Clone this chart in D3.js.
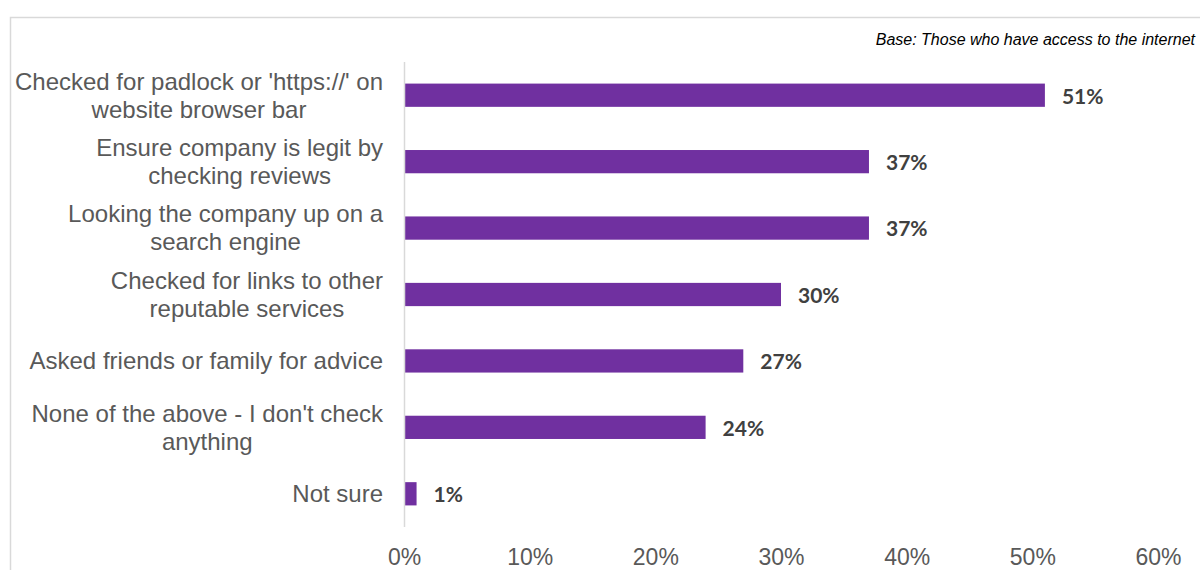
<!DOCTYPE html>
<html>
<head>
<meta charset="utf-8">
<script src="https://cdn.jsdelivr.net/npm/d3@7"></script>
<style>
  html, body { margin: 0; padding: 0; background: #fff; }
  svg { display: block; }
</style>
</head>
<body>
<svg id="chart" width="1200" height="570"></svg>
<script>
// Survey answers, each label split into its display lines
const categories = [
  ["Checked for padlock or 'https://' on", "website browser bar"],
  ["Ensure company is legit by", "checking reviews"],
  ["Looking the company up on a", "search engine"],
  ["Checked for links to other", "reputable services"],
  ["Asked friends or family for advice"],
  ["None of the above - I don't check", "anything"],
  ["Not sure"]
];
const values = [51, 37, 37, 30, 27, 24, 1];
const tickValues = [0, 10, 20, 30, 40, 50, 60];
const baseNote = "Base: Those who have access to the internet";

const svg = d3.select("#chart");
const W = 1200, H = 570;
const margin = { top: 62, right: 42, bottom: 43, left: 404 };
const innerW = W - margin.left - margin.right;
const innerH = H - margin.top - margin.bottom;

// Outer frame
svg.append("path")
  .attr("d", `M10.5,${H} V17.5 H${W}`)
  .attr("fill", "none")
  .attr("stroke", "#d9d9d9")
  .attr("stroke-width", 1.5);

// Base note
svg.append("text")
  .attr("x", 1195).attr("y", 45)
  .attr("text-anchor", "end")
  .attr("font-family", "Liberation Sans, Arial, sans-serif")
  .attr("font-style", "italic")
  .attr("font-size", 16)
  .attr("fill", "#000")
  .text(baseNote);

const g = svg.append("g").attr("transform", `translate(${margin.left},${margin.top})`);

const x = d3.scaleLinear().domain([0, 60]).range([0, 754]);
const y = d3.scaleBand()
  .domain(d3.range(categories.length))
  .range([0, innerH])
  .paddingInner(0.65)
  .paddingOuter(0.325);

// Bars
g.selectAll("rect.bar")
  .data(values)
  .join("rect")
  .attr("class", "bar")
  .attr("x", x(0))
  .attr("y", (d, i) => y(i))
  .attr("width", d => x(d) - x(0))
  .attr("height", y.bandwidth())
  .attr("fill", "#7030a0");

// Value labels
g.selectAll("text.val")
  .data(values)
  .join("text")
  .attr("class", "val")
  .attr("x", d => x(d) + 17)
  .attr("y", (d, i) => y(i) + y.bandwidth() / 2 + 1)
  .attr("dy", "0.35em")
  .attr("font-family", "Lato, Open Sans, sans-serif")
  .attr("font-weight", "bold")
  .attr("font-size", 21)
  .attr("fill", "#404040")
  .text(d => d + "%");

// Vertical axis line
g.append("line")
  .attr("x1", 0.5).attr("x2", 0.5)
  .attr("y1", 0).attr("y2", innerH)
  .attr("stroke", "#d9d9d9")
  .attr("stroke-width", 1.5);

// Category labels: block right-aligned to the axis, lines centred within block
const labelRight = -21;
const lineH = 28;
const labelFont = "Liberation Sans, Arial, sans-serif";
const labelSize = 24;
categories.forEach((lines, i) => {
  const cy = y(i) + y.bandwidth() / 2;
  const t = g.append("text")
    .attr("font-family", labelFont)
    .attr("font-size", labelSize)
    .attr("fill", "#595959")
    .attr("text-anchor", "middle");
  const spans = lines.map((ln, k) => t.append("tspan")
    .attr("y", cy + (k - (lines.length - 1) / 2) * lineH)
    .attr("dy", "0.35em")
    .text(ln));
  const w = d3.max(spans, s => s.node().getComputedTextLength());
  spans.forEach(s => s.attr("x", labelRight - w / 2));
});

// X axis tick labels
const xAxis = d3.axisBottom(x)
  .tickValues(tickValues)
  .tickFormat(d => d + "%")
  .tickSize(0)
  .tickPadding(22);
const ax = g.append("g")
  .attr("transform", `translate(0,${innerH})`)
  .call(xAxis);
ax.select(".domain").remove();
ax.selectAll("text")
  .attr("font-family", labelFont)
  .attr("font-size", 23)
  .attr("fill", "#595959");
</script>
</body>
</html>
